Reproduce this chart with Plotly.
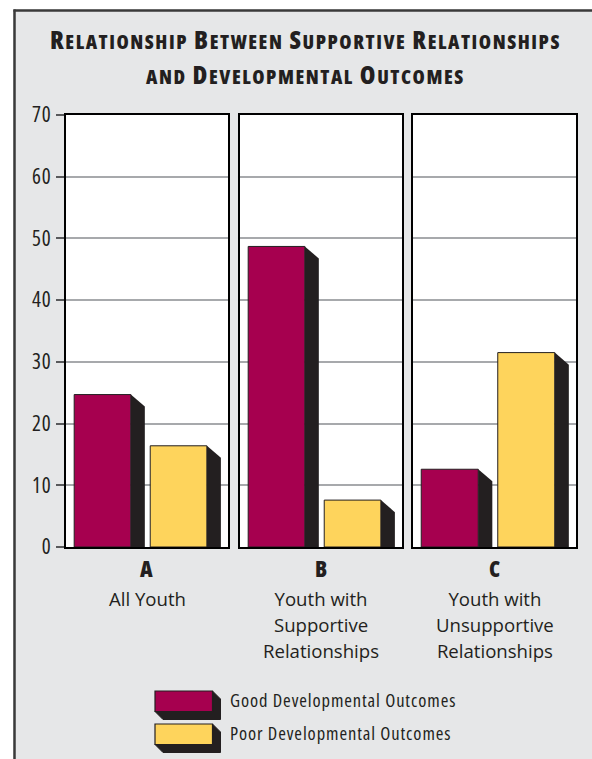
import plotly.graph_objects as go

# ---------------- data ----------------
groups = ["A", "B", "C"]
group_labels = [
    ["All Youth"],
    ["Youth with", "Supportive", "Relationships"],
    ["Youth with", "Unsupportive", "Relationships"],
]
good = [24.7, 48.7, 12.6]
poor = [16.4, 7.6, 31.5]
series_names = ["Good Developmental Outcomes", "Poor Developmental Outcomes"]
y_ticks = [0, 10, 20, 30, 40, 50, 60, 70]
title_lines = [
    ["Relationship", "Between", "Supportive", "Relationships"],
    ["and", "Developmental", "Outcomes"],
]

# ---------------- styles ----------------
colors = ["#a6004f", "#fed45c"]
side = "#231f20"
text_c = "#231f20"
bg = "#e6e7e8"
FONT = "Open Sans, Noto Sans, sans-serif"


def cond(t, pct=75, ls=0, size=None):
    st = f"font-stretch:{pct}%;letter-spacing:{ls}px"
    if size:
        st += f";font-size:{size}px"
    return f"<span style='{st}'>{t}</span>"


W, H = 592, 759
L, R, T, B = 66, 16, 115, 212
pw, ph = W - L - R, H - T - B


def px(X):
    return (X - L) / pw


def py(Y):
    return (H - B - Y) / ph


domains = [(66, 228), (240, 402), (413, 576)]
xr = [-0.48, 1.65]
bw = 0.745
dx = 0.184
dy = 1.95

fig = go.Figure()
for i, g in enumerate(groups):
    xa = "x" if i == 0 else f"x{i+1}"
    ya = "y" if i == 0 else f"y{i+1}"
    vals = [good[i], poor[i]]
    for j, v in enumerate(vals):
        fig.add_trace(go.Bar(
            x=[j], y=[v], width=bw,
            marker=dict(color=colors[j], line=dict(color=side, width=1)),
            xaxis=xa, yaxis=ya, showlegend=False, hoverinfo="skip"))
        xe = j + bw / 2
        fig.add_trace(go.Scatter(
            x=[xe, xe + dx, xe + dx, xe, xe], y=[v, v - dy, 0, 0, v],
            fill="toself", fillcolor=side, mode="lines",
            line=dict(width=0, color=side),
            xaxis=xa, yaxis=ya, showlegend=False, hoverinfo="skip"))

layout = dict(
    width=W, height=H,
    margin=dict(l=L, r=R, t=T, b=B),
    paper_bgcolor=bg, plot_bgcolor="white",
    barmode="overlay",
    font=dict(family=FONT, color=text_c),
)
for i in range(3):
    n = "" if i == 0 else str(i + 1)
    a, b = domains[i]
    layout[f"xaxis{n}"] = dict(
        domain=[px(a), px(b)], range=xr, showgrid=False, zeroline=False,
        showticklabels=False, ticks="", showline=True, mirror=True,
        linecolor="black", linewidth=2, anchor=f"y{n}", fixedrange=True)
    layout[f"yaxis{n}"] = dict(
        domain=[0, 1], range=[0, 70], tickvals=y_ticks,
        ticktext=[cond(str(v), 75, 1) for v in y_ticks],
        showgrid=True, gridcolor="#a7a9ac", gridwidth=1.5, zeroline=False,
        showline=True, mirror=True, linecolor="black", linewidth=2,
        anchor=f"x{n}", showticklabels=(i == 0),
        ticks="outside" if i == 0 else "", ticklen=8, tickwidth=1.5,
        tickcolor="#58595b", tickfont=dict(size=21, color=text_c, family=FONT),
        fixedrange=True)
fig.update_layout(**layout)

annotations = []
shapes = []


def smallcaps(words, small):
    out = []
    for w in words:
        if w.islower():
            out.append(f"<span style='font-size:{small}px'>{w.upper()}</span>")
        else:
            out.append(w[0] + f"<span style='font-size:{small}px'>{w[1:].upper()}</span>")
    return "<span style='font-stretch:75%;letter-spacing:1.55px'>" + " ".join(out) + "</span>"


for k, (line, yy) in enumerate(zip(title_lines, [39.5, 74.2])):
    annotations.append(dict(
        text=smallcaps(line, 19.8), x=px(305), y=py(yy), xref="paper", yref="paper",
        showarrow=False, xanchor="center", yanchor="middle", borderpad=0,
        font=dict(size=25.3, family=FONT, color=text_c, weight=800)))

# category labels
LS = 26
for i, g in enumerate(groups):
    xa = "x" if i == 0 else f"x{i+1}"
    annotations.append(dict(
        text=cond(g, 75, 1), x=0.5, xref=f"{xa} domain", y=py(568), yref="paper",
        showarrow=False, xanchor="center", yanchor="middle", borderpad=0,
        font=dict(size=22, family=FONT, color=text_c, weight=800)))
    lines = group_labels[i]
    annotations.append(dict(
        text=cond("<br>".join(lines), 100, 0, 18.6), x=0.5, xref=f"{xa} domain",
        y=py(598 + LS * (len(lines) - 1) / 2), yref="paper",
        showarrow=False, xanchor="center", yanchor="middle", borderpad=0,
        font=dict(size=LS / 1.3, family=FONT, color=text_c)))

# legend (custom 3D boxes)
for j, (name, top) in enumerate(zip(series_names, [691, 724])):
    x0, x1, y0, y1 = 155, 212.5, top, top + 20.5
    d = 8
    path = (f"M {px(x1)},{py(y0)} L {px(x1 + d)},{py(y0 + d)} L {px(x1 + d)},{py(y1 + d)} "
            f"L {px(x0 + d)},{py(y1 + d)} L {px(x0)},{py(y1)} L {px(x1)},{py(y1)} Z")
    shapes.append(dict(type="path", path=path, xref="paper", yref="paper",
                       fillcolor=side, line=dict(color=side, width=1)))
    shapes.append(dict(type="rect", x0=px(x0), x1=px(x1), y0=py(y0), y1=py(y1),
                       xref="paper", yref="paper", fillcolor=colors[j],
                       line=dict(color=side, width=1.2)))
    annotations.append(dict(
        text=cond(name, 75, 0.9), x=px(228), y=py(top + 8.5), xref="paper", yref="paper",
        showarrow=False, xanchor="left", yanchor="middle",
        font=dict(size=18.5, family=FONT, color=text_c)))

# outer frame: white outside, dark border
shapes.append(dict(type="rect", x0=px(0), x1=px(W), y0=py(0), y1=py(9.5),
                   xref="paper", yref="paper", fillcolor="white", line=dict(width=0), layer="below"))
shapes.append(dict(type="rect", x0=px(0), x1=px(13.5), y0=py(0), y1=py(H),
                   xref="paper", yref="paper", fillcolor="white", line=dict(width=0), layer="below"))
shapes.append(dict(type="line", x0=px(13.5), x1=px(W), y0=py(10.5), y1=py(10.5),
                   xref="paper", yref="paper", line=dict(color="#3a3a3a", width=2.5)))
shapes.append(dict(type="line", x0=px(14.5), x1=px(14.5), y0=py(9.5), y1=py(H),
                   xref="paper", yref="paper", line=dict(color="#3a3a3a", width=2.5)))

fig.update_layout(annotations=annotations, shapes=shapes)
fig.write_html("out.html")
